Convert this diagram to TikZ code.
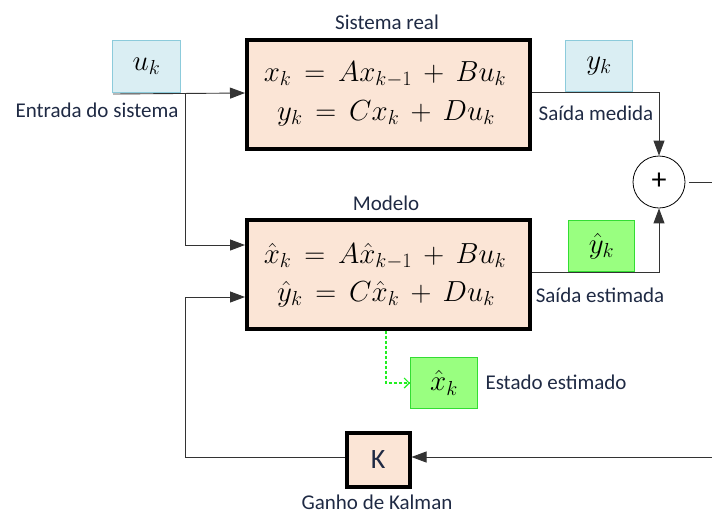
\RequirePackage{fix-cm}
\documentclass[tikz,border=0pt]{standalone}
\usepackage{amsmath}
\usepackage{fontspec}
\setmainfont{Carlito}
\usetikzlibrary{arrows.meta}
\definecolor{peach}{HTML}{FBE5D6}
\definecolor{lblue}{HTML}{DAEEF3}
\definecolor{lbluebd}{HTML}{8CCBDB}
\definecolor{lgreen}{HTML}{99FF80}
\definecolor{gbd}{HTML}{33DD33}
\definecolor{dgreen}{HTML}{22EE22}
\definecolor{txt}{HTML}{1F2A44}
\newcommand{\eqsp}{\thickmuskip=8mu \medmuskip=7mu}
\begin{document}
\begin{tikzpicture}[x=1pt,y=-1pt,
  blockbox/.style={draw=black,line width=3.5pt,fill=peach,inner sep=0pt,anchor=north west},
  sigbox/.style={draw=lbluebd,line width=1pt,fill=lblue,inner sep=0pt,anchor=north west},
  estbox/.style={draw=gbd,line width=1pt,fill=lgreen,inner sep=0pt,anchor=north west},
  lbl/.style={font=\fontsize{21}{24}\selectfont,text=txt,inner sep=0pt},
  eq/.style={font=\fontsize{29}{34}\selectfont\eqsp,inner sep=0pt},
  eqb/.style={eq,anchor=base},
  wire/.style={draw=black!80,line width=0.9pt},
  arr/.style={wire,-{Triangle[length=15pt,width=11pt]}}
]
\useasboundingbox (0,0) rectangle (712,515);
% boxes
\node[sigbox,minimum width=68pt,minimum height=52pt] (u) at (112,40) {};
\node[eq] (ut) at (u.center) {$u_k$};
\node[blockbox,minimum width=283pt,minimum height=109pt] (S) at (245,38) {};
\node[eqb] (S1) at (385,81) {$x_k = Ax_{k-1} + Bu_k$};
\node[eqb] (S2) at (386,120) {$y_k = Cx_k + Du_k$};
\node[lbl] (Sl) at (387,22) {Sistema real};
\node[sigbox,minimum width=67pt,minimum height=51pt] (y) at (565,40) {};
\node[eq] (yt) at (y.center) {$y_k$};
\node[blockbox,minimum width=283pt,minimum height=109pt] (M) at (245,218) {};
\node[eqb] (M1) at (385,263) {$\hat{x}_k = A\hat{x}_{k-1} + Bu_k$};
\node[eqb] (M2) at (386,301) {$\hat{y}_k = C\hat{x}_k + Du_k$};
\node[lbl] (Ml) at (386,203) {Modelo};
\node[estbox,minimum width=66pt,minimum height=51pt] (yh) at (568,220) {};
\node[eq] (yht) at (yh.center) {$\hat{y}_k$};
\node[estbox,minimum width=67pt,minimum height=51pt] (xh) at (410,357) {};
\node[eq] (xht) at (xh.center) {$\hat{x}_k$};
\node[draw=black,line width=0.8pt,circle,minimum size=52pt,inner sep=0pt] (sum) at (659,182) {};
\node[font=\fontsize{30}{32}\selectfont,inner sep=0pt] (plus) at (659,181) {+};
\node[blockbox,minimum width=63pt,minimum height=54pt] (K) at (345,431) {};
\node[font=\fontsize{28}{30}\selectfont,text=txt,inner sep=0pt] (Kt) at (K.center) {K};
% labels
\node[lbl] (l1) at (97,110) {Entrada do sistema};
\node[lbl] (l2) at (596,113) {Saída medida};
\node[lbl] (l3) at (600,295) {Saída estimada};
\node[lbl] (l4) at (556,382) {Estado estimado};
\node[lbl] (l5) at (377,502) {Ganho de Kalman};
% coordinates
\coordinate (br) at (185,93);
\coordinate (fbL) at (185,457);
\coordinate (eR) at (712,182);
\coordinate (eR2) at (712,457);
% wires
\draw[arr] (u.south west) ++(1,1) -- (S.west |- 0,93);
\draw[arr] (br) |- (M.west |- 0,245);
\draw[arr] (K.west |- 0,457) -- (fbL) |- (M.west |- 0,297);
\draw[arr] (S.east |- 0,92) -| (sum.north);
\draw[arr] (M.east |- 0,272) -| (sum.south);
\draw[wire] (sum.east) ++(4,0) -- (eR);
\draw[arr] (eR2) -- (K.east |- 0,457);
\draw[draw=dgreen,line width=1.2pt,dashed,dash pattern=on 3pt off 2pt,-{Straight Barb[length=5pt,width=10pt]}] (M.south -| 386,0) |- (xh.west);
\end{tikzpicture}
\end{document}
